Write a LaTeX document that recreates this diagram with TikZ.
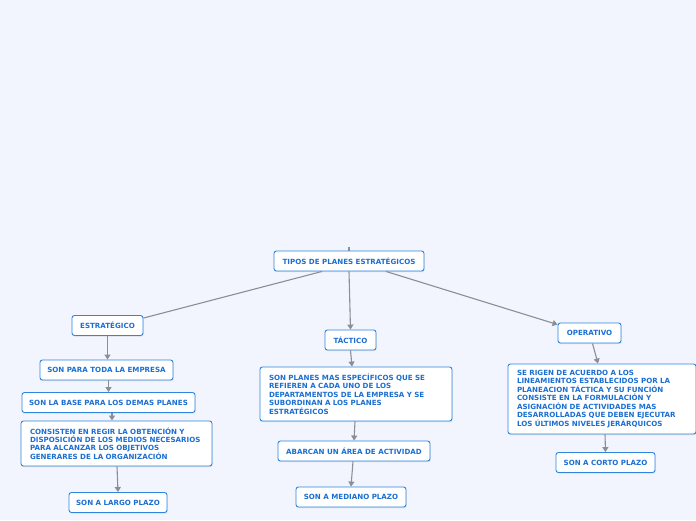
\documentclass[tikz,border=0pt]{standalone}
\usepackage{fontspec}
\setmainfont{DejaVu Sans}
\usepackage{tikz}
\usetikzlibrary{positioning, shadows, arrows.meta}
\usepackage{xcolor}

\definecolor{bgblue}{HTML}{F2F5FD}
\definecolor{boxline}{HTML}{2E86E0}
\definecolor{boxtext}{HTML}{1B6FD2}
\definecolor{linkgray}{HTML}{8A8E96}

\begin{document}
\begin{tikzpicture}[
  x=1pt, y=-1pt,
  box/.style={rectangle, rounded corners=2.5pt, draw=boxline, line width=0.9pt, fill=white,
    text=boxtext, font=\bfseries\fontsize{7.1}{8.5}\selectfont, minimum height=20pt,
    inner xsep=7pt, inner ysep=3pt,
    drop shadow={opacity=0.2, shadow xshift=0.6pt, shadow yshift=-1.2pt}},
  textbox/.style={box, align=left, inner xsep=9pt},
  conn/.style={draw=linkgray, line width=1.1pt},
  arr/.style={conn, -{Triangle[length=5pt, width=6pt]}}
]

% Background
\fill[bgblue] (0,0) rectangle (696,520);
\useasboundingbox (0,0) rectangle (696,520);

% Central topic
\node[box, minimum width=150pt] (root) at (349,261) {TIPOS DE PLANES ESTRATÉGICOS};
\coordinate (top) at (349,247);

% Main branches
\node[box, minimum width=71pt] (estrategico) at (107.5,325.5) {ESTRATÉGICO};
\node[box, minimum width=51pt] (tactico) at (350.5,340) {TÁCTICO};
\node[box, minimum width=63pt] (operativo) at (589.5,333) {OPERATIVO};

% Estrategico branch
\node[box, minimum width=133pt] (paraempresa) at (106.5,370) {SON PARA TODA LA EMPRESA};
\node[box, minimum width=173pt] (baseplanes) at (108.5,402.5) {SON LA BASE PARA LOS DEMAS PLANES};
\node[textbox, text width=173pt, minimum height=45pt] (consisten) at (116.5,443.5)
  {CONSISTEN EN REGIR LA OBTENCIÓN Y\\DISPOSICIÓN DE LOS MEDIOS NECESARIOS\\PARA ALCANZAR LOS OBJETIVOS\\GENERARES DE LA ORGANIZACIÓN};
\node[box, minimum width=98pt] (largo) at (118,502.5) {SON A LARGO PLAZO};

% Tactico branch
\node[textbox, text width=174pt, minimum height=54pt] (especificos) at (356,394)
  {SON PLANES MAS ESPECÍFICOS QUE SE\\REFIEREN A CADA UNO DE LOS\\DEPARTAMENTOS DE LA EMPRESA Y SE\\SUBORDINAN A LOS PLANES\\ESTRATÉGICOS};
\node[box, minimum width=152pt] (abarcan) at (354,451) {ABARCAN UN ÁREA DE ACTIVIDAD};
\node[box, minimum width=110pt] (mediano) at (351,497) {SON A MEDIANO PLAZO};

% Operativo branch
\node[textbox, text width=170pt, minimum height=70pt] (serigen) at (602,399)
  {SE RIGEN DE ACUERDO A LOS\\LINEAMIENTOS ESTABLECIDOS POR LA\\PLANEACION TÁCTICA Y SU FUNCIÓN\\CONSISTE EN LA FORMULACIÓN Y\\ASIGNACIÓN DE ACTIVIDADES MAS\\DESARROLLADAS QUE DEBEN EJECUTAR\\LOS ÚLTIMOS NIVELES JERÁRQUICOS};
\node[box, minimum width=99pt] (corto) at (605.5,462.5) {SON A CORTO PLAZO};

% Links from the central topic
\draw[conn] (top) -- (root.north);
\draw[conn] ([xshift=-27pt]root.south) -- ([yshift=-3pt]estrategico.north east);
\draw[arr] (root.south) -- (tactico.north);
\draw[arr] ([xshift=37pt]root.south) -- ([yshift=-2pt]operativo.north west);

% Links down each branch
\draw[arr] (estrategico.south) -- (paraempresa.north -| estrategico.south);
\draw[arr] (paraempresa.south -| baseplanes.north) -- (baseplanes.north);
\draw[arr] ([xshift=3.5pt]baseplanes.south) -- ([xshift=-4.5pt]consisten.north);
\draw[arr] ([xshift=0.5pt]consisten.south) -- (largo.north);

\draw[arr] (tactico.south) -- ([xshift=-4pt]especificos.north);
\draw[arr] ([xshift=-1pt]especificos.south) -- (abarcan.north);
\draw[arr] ([xshift=-1pt]abarcan.south) -- (mediano.north);

\draw[arr] ([xshift=3pt]operativo.south) -- ([xshift=-4pt]serigen.north);
\draw[arr] ([xshift=3pt]serigen.south) -- (corto.north);

\end{tikzpicture}
\end{document}
